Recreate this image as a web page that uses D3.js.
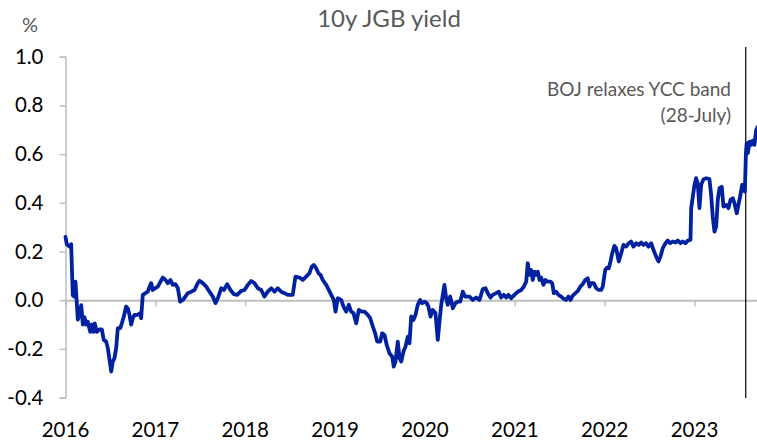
<!DOCTYPE html>
<html>
<head>
<meta charset="utf-8">
<script src="https://cdn.jsdelivr.net/npm/d3@7"></script>
<style>
  html, body { margin: 0; padding: 0; background: #fff; }
  svg { display: block; font-family: Lato, "Open Sans", sans-serif; }
</style>
</head>
<body>
<svg id="chart" width="757" height="441"></svg>
<script>
// ---- Data (decimal year, 10y JGB yield %) ----
const title = "10y JGB yield";
const unitLabel = "%";
const yTicks = [-0.4, -0.2, 0.0, 0.2, 0.4, 0.6, 0.8, 1.0];
const xTickYears = [2016, 2017, 2018, 2019, 2020, 2021, 2022, 2023];
const eventDate = 2023.57; // 28 July 2023
const eventLabel = ["BOJ relaxes YCC band", "(28-July)"];

const dates = [
  2016.000, 2016.014, 2016.045, 2016.063, 2016.081, 2016.097, 2016.111, 2016.137, 2016.156, 2016.175,
  2016.193, 2016.211, 2016.230, 2016.248, 2016.275, 2016.293, 2016.312, 2016.326, 2016.348, 2016.378,
  2016.404, 2016.426, 2016.453, 2016.471, 2016.490, 2016.509, 2016.526, 2016.545, 2016.564, 2016.582,
  2016.609, 2016.627, 2016.649, 2016.675, 2016.693, 2016.712, 2016.731, 2016.749, 2016.768, 2016.805,
  2016.831, 2016.842, 2016.860, 2016.890, 2016.916, 2016.935, 2016.954, 2016.971, 2016.998, 2017.027,
  2017.057, 2017.083, 2017.113, 2017.138, 2017.168, 2017.194, 2017.224, 2017.250, 2017.276, 2017.305,
  2017.335, 2017.361, 2017.399, 2017.436, 2017.472, 2017.491, 2017.528, 2017.566, 2017.602, 2017.639,
  2017.669, 2017.695, 2017.733, 2017.762, 2017.799, 2017.836, 2017.873, 2017.911, 2017.955, 2017.992,
  2018.029, 2018.066, 2018.103, 2018.140, 2018.178, 2018.214, 2018.251, 2018.289, 2018.326, 2018.362,
  2018.400, 2018.437, 2018.474, 2018.529, 2018.559, 2018.604, 2018.641, 2018.678, 2018.715, 2018.741,
  2018.763, 2018.790, 2018.815, 2018.838, 2018.863, 2018.901, 2018.930, 2018.957, 2018.986, 2019.005,
  2019.030, 2019.068, 2019.094, 2019.124, 2019.153, 2019.179, 2019.205, 2019.235, 2019.264, 2019.297,
  2019.327, 2019.364, 2019.391, 2019.420, 2019.446, 2019.469, 2019.502, 2019.524, 2019.550, 2019.575,
  2019.605, 2019.636, 2019.653, 2019.672, 2019.698, 2019.717, 2019.736, 2019.761, 2019.784, 2019.809,
  2019.828, 2019.847, 2019.873, 2019.895, 2019.920, 2019.947, 2019.969, 2019.995, 2020.021, 2020.039,
  2020.062, 2020.087, 2020.117, 2020.143, 2020.162, 2020.181, 2020.217, 2020.236, 2020.254, 2020.281,
  2020.310, 2020.340, 2020.366, 2020.392, 2020.421, 2020.448, 2020.477, 2020.496, 2020.532, 2020.570,
  2020.607, 2020.644, 2020.674, 2020.699, 2020.729, 2020.755, 2020.793, 2020.822, 2020.848, 2020.877,
  2020.904, 2020.930, 2020.960, 2020.996, 2021.033, 2021.071, 2021.100, 2021.127, 2021.144, 2021.163,
  2021.182, 2021.200, 2021.219, 2021.238, 2021.256, 2021.275, 2021.294, 2021.319, 2021.341, 2021.367,
  2021.397, 2021.416, 2021.434, 2021.460, 2021.486, 2021.516, 2021.545, 2021.572, 2021.597, 2021.620,
  2021.645, 2021.675, 2021.701, 2021.731, 2021.756, 2021.783, 2021.812, 2021.831, 2021.850, 2021.879,
  2021.906, 2021.935, 2021.961, 2021.979, 2022.006, 2022.028, 2022.046, 2022.065, 2022.084, 2022.109,
  2022.128, 2022.157, 2022.184, 2022.209, 2022.239, 2022.268, 2022.295, 2022.321, 2022.351, 2022.380,
  2022.406, 2022.432, 2022.462, 2022.488, 2022.518, 2022.543, 2022.573, 2022.599, 2022.621, 2022.647,
  2022.677, 2022.702, 2022.729, 2022.758, 2022.788, 2022.814, 2022.844, 2022.869, 2022.899, 2022.925,
  2022.955, 2022.963, 2022.981, 2023.000, 2023.018, 2023.036, 2023.055, 2023.074, 2023.100, 2023.130,
  2023.166, 2023.185, 2023.203, 2023.222, 2023.241, 2023.259, 2023.278, 2023.303, 2023.322, 2023.352,
  2023.378, 2023.400, 2023.426, 2023.445, 2023.470, 2023.492, 2023.511, 2023.530, 2023.560, 2023.572,
  2023.580, 2023.593, 2023.612, 2023.631, 2023.648, 2023.667, 2023.686, 2023.700
];

const yields = [
  0.260, 0.230, 0.220, 0.230, 0.020, 0.015, 0.076, -0.080, -0.060, -0.020,
  -0.100, -0.070, -0.100, -0.088, -0.130, -0.100, -0.130, -0.095, -0.130, -0.120,
  -0.120, -0.163, -0.170, -0.197, -0.245, -0.293, -0.252, -0.238, -0.197, -0.115,
  -0.115, -0.095, -0.067, -0.026, -0.033, -0.060, -0.100, -0.074, -0.060, -0.060,
  -0.053, -0.074, 0.022, 0.029, 0.035, 0.056, 0.070, 0.042, 0.049, 0.056,
  0.076, 0.093, 0.083, 0.070, 0.083, 0.063, 0.066, 0.049, -0.006, 0.001,
  0.015, 0.029, 0.035, 0.042, 0.070, 0.080, 0.070, 0.056, 0.035, 0.015,
  -0.012, 0.008, 0.049, 0.042, 0.066, 0.042, 0.025, 0.022, 0.038, 0.042,
  0.063, 0.079, 0.070, 0.049, 0.042, 0.015, 0.035, 0.049, 0.035, 0.049,
  0.035, 0.029, 0.022, 0.022, 0.097, 0.093, 0.083, 0.097, 0.111, 0.138,
  0.145, 0.131, 0.111, 0.104, 0.083, 0.063, 0.042, 0.022, 0.001, -0.047,
  0.008, 0.001, -0.026, -0.047, -0.019, -0.047, -0.053, -0.095, -0.040, -0.047,
  -0.047, -0.060, -0.074, -0.108, -0.136, -0.170, -0.170, -0.136, -0.143, -0.184,
  -0.218, -0.232, -0.273, -0.252, -0.170, -0.238, -0.252, -0.211, -0.190, -0.150,
  -0.177, -0.067, -0.081, -0.060, -0.019, 0.001, -0.012, -0.006, -0.012, -0.026,
  -0.067, -0.040, -0.053, -0.163, -0.088, -0.019, 0.063, 0.008, -0.019, 0.015,
  -0.033, -0.012, -0.006, -0.006, 0.035, 0.015, 0.015, 0.015, 0.001, 0.011,
  0.001, 0.046, 0.049, 0.029, 0.011, 0.022, 0.029, 0.035, 0.011, 0.022,
  0.011, 0.022, 0.008, 0.022, 0.035, 0.042, 0.056, 0.076, 0.152, 0.104,
  0.124, 0.083, 0.117, 0.104, 0.117, 0.083, 0.093, 0.063, 0.083, 0.076,
  0.076, 0.070, 0.029, 0.035, 0.022, 0.015, 0.005, 0.001, 0.015, 0.001,
  0.019, 0.029, 0.038, 0.056, 0.066, 0.083, 0.090, 0.056, 0.070, 0.070,
  0.049, 0.042, 0.042, 0.056, 0.124, 0.134, 0.131, 0.159, 0.193, 0.223,
  0.214, 0.159, 0.193, 0.227, 0.220, 0.234, 0.241, 0.220, 0.234, 0.227,
  0.237, 0.227, 0.234, 0.220, 0.234, 0.207, 0.179, 0.159, 0.179, 0.214,
  0.234, 0.245, 0.234, 0.241, 0.237, 0.245, 0.234, 0.241, 0.234, 0.245,
  0.248, 0.378, 0.426, 0.474, 0.501, 0.480, 0.378, 0.474, 0.497, 0.501,
  0.497, 0.432, 0.343, 0.282, 0.302, 0.412, 0.460, 0.466, 0.384, 0.391,
  0.378, 0.412, 0.419, 0.398, 0.357, 0.398, 0.432, 0.474, 0.446, 0.604,
  0.645, 0.604, 0.651, 0.638, 0.655, 0.638, 0.699, 0.710
];

// ---- Layout ----
const W = 757, H = 441;
const svg = d3.select("#chart");
const plotLeft = 65.5, yearWidth = 89.86;
const x = d3.scaleLinear().domain([2016, 2024]).range([plotLeft, plotLeft + 8 * yearWidth]);
const y = d3.scaleLinear().domain([-0.4, 1.0]).range([397.6, 56.7]);

const gray = "#bfbfbf";
const textGray = "#595959";

// Title
svg.append("text").attr("x", 389).attr("y", 27).attr("text-anchor", "middle")
  .attr("font-size", 24).attr("fill", textGray).text(title);
// Unit
svg.append("text").attr("x", 30).attr("y", 32).attr("text-anchor", "middle")
  .attr("font-size", 20).attr("fill", textGray).text(unitLabel);

// Y axis
const yAxis = d3.axisLeft(y).tickValues(yTicks).tickSize(6).tickPadding(16)
  .tickFormat(d3.format(".1f"));
const gy = svg.append("g").attr("transform", `translate(${plotLeft},0)`).call(yAxis);
gy.select(".domain").attr("stroke", gray).attr("stroke-width", 1.5);
gy.selectAll(".tick line").attr("stroke", gray).attr("stroke-width", 1.5);
gy.selectAll(".tick text").attr("font-size", 20.5).attr("fill", "#000")
  .attr("font-family", "Lato, 'Open Sans', sans-serif")
  .text(d => d3.format(".1f")(d).replace("−", "-"));

// X axis on zero line
const xAxis = d3.axisBottom(x).tickValues(xTickYears).tickSize(6).tickFormat("");
const gx = svg.append("g").attr("transform", `translate(0,${y(0)})`).call(xAxis);
gx.select(".domain").attr("stroke", gray).attr("stroke-width", 2);
gx.selectAll(".tick line").attr("stroke", gray).attr("stroke-width", 1.5);

// X labels at the bottom
svg.append("g").selectAll("text").data(xTickYears).join("text")
  .attr("x", d => x(d)).attr("y", 436.5).attr("text-anchor", "middle")
  .attr("font-size", 20.5).attr("fill", "#000").text(d => d);

// Event line
svg.append("line")
  .attr("x1", x(eventDate)).attr("x2", x(eventDate))
  .attr("y1", 47).attr("y2", 398)
  .attr("stroke", "#000").attr("stroke-width", 1.2);

// Annotation
svg.append("g").selectAll("text").data(eventLabel).join("text")
  .attr("x", 731).attr("y", (d, i) => 96 + i * 26)
  .attr("text-anchor", "end").attr("font-size", 19).attr("fill", textGray).text(d => d);

// Series line
const series = dates.map((d, i) => ({ d, v: yields[i] }));
const line = d3.line().x(p => x(p.d)).y(p => y(p.v));
svg.append("path").datum(series)
  .attr("d", line).attr("fill", "none")
  .attr("stroke", "#0021A0").attr("stroke-width", 3.8)
  .attr("stroke-linejoin", "round").attr("stroke-linecap", "round");
</script>
</body>
</html>
